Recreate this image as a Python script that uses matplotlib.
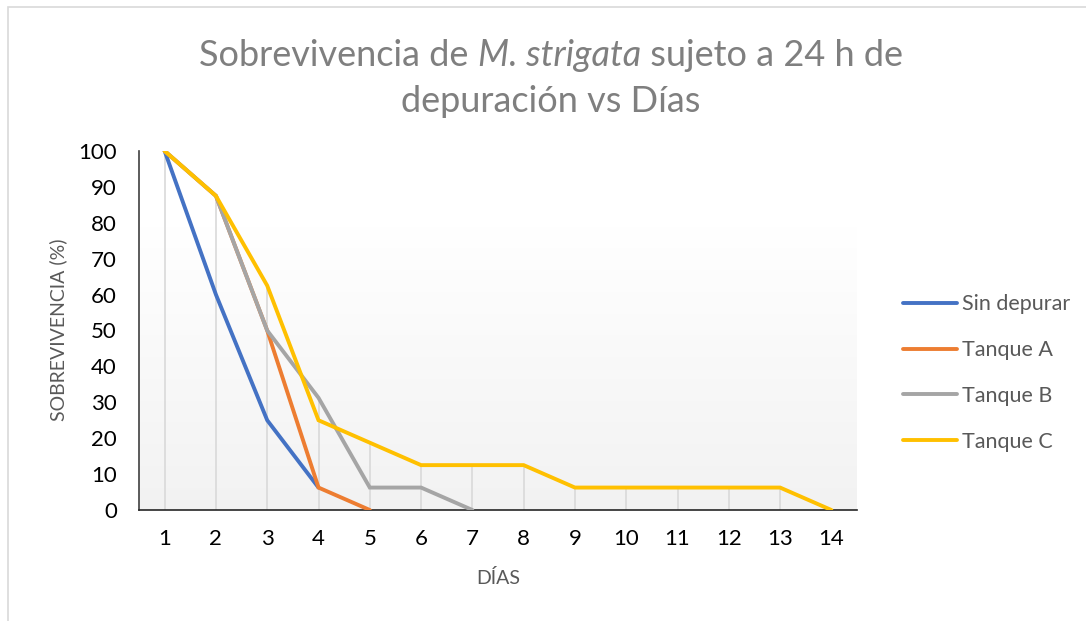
import numpy as np
import matplotlib.pyplot as plt
from matplotlib.patches import Rectangle
from matplotlib.colors import LinearSegmentedColormap

dias = np.arange(1, 15)
sin_depurar = [100, 60, 25, 6.25]
tanque_a = [100, 87.5, 50, 6.25, 0]
tanque_b = [100, 87.5, 50, 31.25, 6.25, 6.25, 0]
tanque_c = [100, 87.5, 62.5, 25, 18.75, 12.5, 12.5, 12.5, 6.25, 6.25, 6.25, 6.25, 6.25, 0]

series = [("Sin depurar", sin_depurar, "#4472C4"),
          ("Tanque A", tanque_a, "#ED7D31"),
          ("Tanque B", tanque_b, "#A5A5A5"),
          ("Tanque C", tanque_c, "#FFC000")]

plt.rcParams['font.family'] = ['Lato', 'DejaVu Sans']

fig = plt.figure(figsize=(10.86, 6.21), dpi=100)
ax = fig.add_axes([139/1086, 1 - 510/621, (857-139)/1086, (510-151)/621])

# chart border (light gray)
fig.patches.append(Rectangle((8/1086, -0.1), 1.2, 1.1 - 7/621, transform=fig.transFigure,
                             fill=False, edgecolor='#d9d9d9', linewidth=1.2))

# plot area gradient
grad = np.linspace(0, 1, 256).reshape(-1, 1)
ax.imshow(grad, extent=[0.5, 14.5, 0, 79], aspect='auto',
          cmap=LinearSegmentedColormap.from_list('g', ['#f2f2f2', '#ffffff']),
          origin='lower', zorder=0)

# drop lines
tops = []
for i, d in enumerate(dias):
    vals = [s[1][i] for s in series if i < len(s[1])]
    tops.append(max(vals))
ax.vlines(dias, 0, tops, color='#d9d9d9', linewidth=1.2, zorder=1)

for name, vals, col in series:
    ax.plot(dias[:len(vals)], vals, color=col, linewidth=2.8, label=name,
            solid_capstyle='round', solid_joinstyle='miter', zorder=3)

ax.set_xlim(0.5, 14.5)
ax.set_ylim(0, 100)
ax.set_xticks(dias)
ax.set_yticks(np.arange(0, 101, 10))
ax.tick_params(length=0, labelsize=16, colors='black')
ax.tick_params(axis='x', pad=14)
ax.tick_params(axis='y', pad=16)
for s in ['top', 'right']:
    ax.spines[s].set_visible(False)
ax.spines['left'].set_color('#404040')
ax.spines['bottom'].set_color('#262626')
ax.spines['left'].set_linewidth(1.2)
ax.spines['bottom'].set_linewidth(1.2)
ax.set_facecolor('white')

fig.text(58/1086, 1 - 330/621, 'SOBREVIVENCIA (%)', rotation=90, ha='center', va='center',
         fontsize=14, color='#595959')
fig.text(498/1086, 1 - 578/621, 'DÍAS', ha='center', va='center', fontsize=14, color='#595959')

# title with italic species name
tcol = '#7f7f7f'
tsize = 26
fig.canvas.draw()
r = fig.canvas.get_renderer()
parts = [("Sobrevivencia de ", 'normal'), ("M. strigata", 'italic'), (" sujeto a 24 h de", 'normal')]
texts = [fig.text(0, 0, p, fontsize=tsize, style=st, color=tcol, va='center') for p, st in parts]
widths = [t.get_window_extent(r).width for t in texts]
x0 = 551 - sum(widths) / 2
for t, w in zip(texts, widths):
    t.set_position((x0 / 1086, 1 - 56/621))
    x0 += w
fig.text(551/1086, 1 - 102/621, 'depuración vs Días', fontsize=tsize, color=tcol,
         ha='center', va='center')

fig.legend(loc='center left', bbox_to_anchor=(884/1086, 1 - 373/621), frameon=False,
           fontsize=15.5, handlelength=2.5, labelspacing=1.2, handletextpad=0.2,
           labelcolor='#595959')

fig.savefig('out.png', dpi=100)
